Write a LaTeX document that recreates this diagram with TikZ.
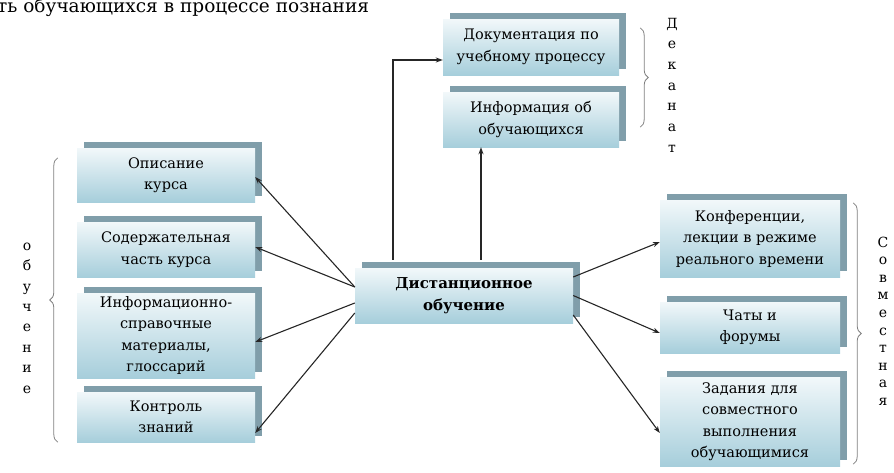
\documentclass[tikz,border=0pt]{standalone}
\usepackage{fontspec}
\setmainfont{DejaVu Serif}
\usetikzlibrary{shadows,decorations.pathreplacing,arrows.meta}
\definecolor{boxtop}{RGB}{242,248,250}
\definecolor{boxbot}{RGB}{166,206,219}
\definecolor{boxsh}{RGB}{128,158,170}
\tikzset{blk/.style={top color=boxtop,bottom color=boxbot,align=center,inner sep=2pt,
  font=\fontsize{14.5}{21.5}\selectfont,
  general shadow={shadow xshift=7pt,shadow yshift=6pt,fill=boxsh}},
arr/.style={-{Stealth[length=7pt,width=5pt]},black!85,line width=1.1pt},
brc/.style={decorate,decoration={brace,amplitude=8pt},gray,line width=.8pt},
vlab/.style={align=center,inner sep=0pt}}

\begin{document}
\begin{tikzpicture}[x=1pt,y=-1pt]
\clip (0,0) rectangle (894,472);
\node[anchor=base west,inner sep=0pt,font=\fontsize{18.5}{18.5}\selectfont] (ttl) at (-3,12) {ть обучающихся в процессе познания};
\node[blk,minimum width=176pt,minimum height=56pt] (t1) at (531,47) {Документация по\\учебному процессу};
\node[blk,minimum width=176pt,minimum height=55pt] (t2) at (531,119.5) {Информация об\\обучающихся};
\node[blk,minimum width=218pt,minimum height=55pt,font=\fontsize{15}{22}\selectfont\bfseries] (c) at (464,295.5) {Дистанционное\\обучение};
\node[blk,minimum width=178pt,minimum height=54pt] (l1) at (166,175) {Описание\\курса};
\node[blk,minimum width=178pt,minimum height=55pt] (l2) at (166,249.5) {Содержательная\\часть курса};
\node[blk,minimum width=178pt,minimum height=85pt] (l3) at (166,335.5) {Информационно-\\справочные\\материалы,\\глоссарий};
\node[blk,minimum width=178pt,minimum height=50pt] (l4) at (166,417) {Контроль\\знаний};
\node[blk,minimum width=180pt,minimum height=77pt] (r1) at (750,238.5) {Конференции,\\лекции в режиме\\реального времени};
\node[blk,minimum width=180pt,minimum height=51pt] (r2) at (750,327.5) {Чаты и\\форумы};
\node[blk,minimum width=180pt,minimum height=89pt] (r3) at (750,421.5) {Задания для\\совместного\\выполнения\\обучающимися};
\node[vlab,font=\fontsize{14}{20.7}\selectfont] (dek) at (672,85) {Д\\е\\к\\а\\н\\а\\т};
\node[vlab,font=\fontsize{14}{20.4}\selectfont] (obu) at (27,318) {о\\б\\у\\ч\\е\\н\\и\\е};
\node[vlab,font=\fontsize{14}{17.6}\selectfont] (sov) at (883,321) {С\\о\\в\\м\\е\\с\\т\\н\\а\\я};
\draw[arr,line width=1.6pt,shorten <=8pt] ([xshift=-71pt]c.north) |- ([yshift=-13pt]t1.west);
\draw[arr,line width=1.6pt,shorten <=8pt] ([xshift=17pt]c.north) -- ([xshift=17pt]c.north |- t2.south);
\foreach \n/\a/\b in {l1/8.5/-2,l2/8.5/2.5,l3/-7.5/-6.5,l4/-17.5/-16}
\draw[arr] ([yshift=\a pt]c.west) -- ([yshift=\b pt]\n.east);
\foreach \n/\a/\b in {r1/18.5/-3.5,r2/0/-5.5,r3/-19.5/-11.5}
\draw[arr] ([yshift=\a pt]c.east) -- ([yshift=\b pt]\n.west);
\draw[brc] ([xshift=-19pt]l4.south west) -- ([xshift=-19pt,yshift=-10pt]l1.north west);
\draw[brc] ([xshift=21pt,yshift=-9pt]t1.north east) -- ([xshift=21pt,yshift=20pt]t2.south east);
\draw[brc] ([xshift=13pt,yshift=-3pt]r1.north east) -- ([xshift=13pt,yshift=2pt]r3.south east);
\end{tikzpicture}
\end{document}
